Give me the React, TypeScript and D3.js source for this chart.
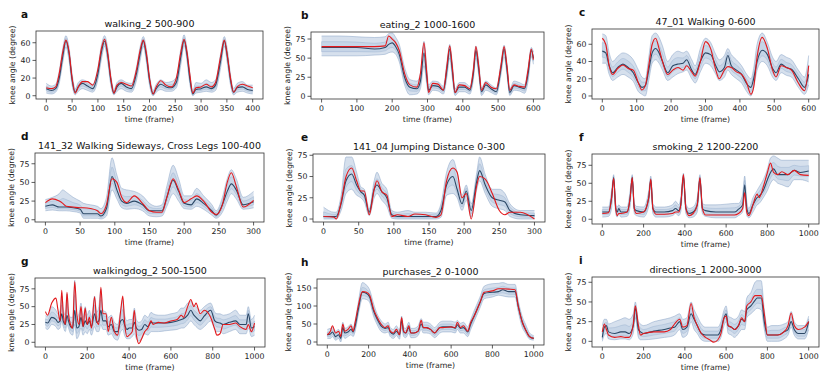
import React from "react";
import * as d3 from "d3";

// rows: [frame, band low, mean, band high, reference (red)]
const walking2 = [
  [0, 3, 8, 14, 9], [10, 2, 6, 11, 8], [18, 4, 8, 13, 10], [25, 14, 20, 28, 25], [32, 38, 45, 54, 50],
  [38, 55, 62, 68, 63], [44, 40, 48, 55, 50], [50, 12, 18, 25, 20], [56, 1, 4, 8, 3], [62, 5, 10, 15, 10],
  [70, 8, 14, 18, 16], [80, 6, 11, 16, 16], [90, 4, 8, 13, 12], [100, 18, 25, 32, 30], [107, 42, 50, 58, 54],
  [113, 56, 62, 68, 64], [119, 38, 46, 54, 48], [125, 12, 18, 24, 20], [131, 1, 3, 7, 3], [137, 5, 10, 15, 12],
  [145, 8, 14, 18, 15], [155, 5, 10, 15, 13], [165, 4, 8, 14, 11], [175, 18, 26, 33, 30], [182, 40, 48, 56, 52],
  [188, 56, 62, 67, 63], [194, 38, 45, 53, 48], [200, 12, 18, 24, 20], [207, 0, 2, 6, 2], [213, 4, 8, 13, 10],
  [222, 7, 13, 18, 17], [232, 5, 10, 15, 12], [242, 5, 9, 16, 10], [252, 9, 15, 21, 20], [261, 36, 45, 54, 50],
  [267, 57, 63, 69, 64], [273, 38, 45, 52, 48], [278, 14, 20, 27, 25], [284, 0, 2, 6, 3], [290, 3, 7, 15, 9],
  [300, 4, 8, 14, 10], [310, 5, 10, 18, 13], [320, 4, 8, 15, 10], [328, 6, 12, 18, 15], [338, 32, 40, 48, 45],
  [345, 56, 62, 67, 63], [351, 36, 44, 52, 45], [357, 12, 18, 24, 20], [363, 1, 4, 8, 4], [370, 4, 9, 14, 10],
  [380, 5, 10, 16, 13], [390, 3, 7, 12, 11], [400, 2, 6, 12, 9],
];

const eating2 = [
  [0, 53, 64, 79, 65], [50, 53, 64, 79, 65], [100, 53, 64, 78, 65], [150, 54, 62, 77, 65], [180, 55, 64, 78, 66],
  [190, 57, 68, 82, 79], [200, 58, 70, 83, 75], [210, 55, 65, 77, 70], [220, 45, 55, 68, 60], [235, 15, 25, 38, 30],
  [250, 2, 12, 22, 15], [270, 3, 10, 20, 12], [280, 10, 20, 30, 30], [290, 40, 57, 72, 70], [298, 15, 25, 38, 30],
  [303, 2, 8, 15, 5], [315, 8, 14, 20, 17], [330, 7, 13, 19, 16], [345, 3, 8, 13, 8], [355, 25, 35, 45, 40],
  [363, 50, 62, 68, 66], [370, 25, 35, 45, 40], [378, 1, 5, 10, 5], [390, 6, 12, 18, 15], [405, 6, 12, 18, 14],
  [420, 3, 8, 13, 10], [430, 22, 30, 38, 35], [437, 50, 60, 66, 65], [445, 28, 36, 46, 40], [453, 1, 6, 11, 8],
  [465, 8, 15, 20, 18], [480, 5, 10, 15, 12], [495, 2, 6, 11, 10], [508, 28, 36, 44, 40], [517, 52, 62, 67, 65],
  [525, 28, 36, 44, 40], [533, 1, 5, 10, 8], [545, 8, 14, 20, 15], [560, 7, 12, 18, 13], [575, 4, 10, 15, 12],
  [585, 20, 30, 38, 35], [594, 52, 60, 64, 62], [600, 42, 50, 58, 48],
];

const walking4701 = [
  [0, 38, 52, 72, 67], [10, 38, 50, 70, 60], [20, 25, 35, 50, 35], [30, 18, 27, 40, 25], [45, 22, 33, 46, 32],
  [60, 25, 37, 50, 36], [75, 22, 33, 48, 32], [90, 17, 27, 42, 30], [105, 5, 15, 30, 15], [115, 2, 10, 22, 7],
  [125, 0, 12, 20, 12], [135, 18, 30, 45, 35], [145, 38, 50, 70, 60], [155, 42, 55, 73, 67], [165, 38, 50, 68, 55],
  [175, 30, 40, 58, 40], [190, 18, 27, 40, 25], [205, 22, 35, 48, 30], [220, 26, 37, 52, 33], [235, 28, 38, 50, 30],
  [245, 30, 42, 52, 35], [260, 20, 30, 42, 28], [270, 15, 25, 35, 23], [285, 28, 40, 55, 40], [300, 38, 50, 67, 63],
  [315, 35, 48, 62, 55], [330, 25, 35, 48, 30], [340, 18, 28, 42, 20], [355, 22, 33, 47, 30], [365, 30, 47, 55, 34],
  [375, 25, 35, 48, 33], [390, 20, 30, 42, 28], [405, 15, 25, 35, 25], [420, 5, 14, 25, 15], [432, 0, 10, 20, 2],
  [440, 10, 20, 32, 10], [450, 30, 40, 60, 45], [465, 40, 53, 73, 68], [480, 35, 48, 62, 55], [495, 22, 32, 45, 30],
  [505, 18, 27, 40, 22], [520, 27, 37, 48, 35], [535, 24, 33, 45, 33], [550, 22, 31, 42, 30], [570, 10, 20, 30, 15],
  [588, 2, 10, 22, 6], [600, 13, 25, 47, 35],
];

const sideways = [
  [0, 12, 18, 27, 23], [10, 13, 20, 30, 28], [20, 12, 17, 35, 25], [25, 12, 17, 40, 22], [30, 12, 17, 37, 18],
  [40, 11, 16, 30, 17], [50, 9, 14, 25, 16], [55, 2, 8, 22, 16], [65, 2, 8, 20, 15], [75, 2, 8, 18, 12],
  [80, 1, 5, 15, 8], [88, 5, 15, 30, 20], [96, 40, 58, 83, 55], [103, 28, 40, 60, 50], [110, 16, 25, 42, 30],
  [117, 14, 22, 40, 23], [128, 15, 25, 38, 32], [140, 12, 20, 32, 22], [150, 5, 12, 22, 12], [160, 4, 12, 18, 10],
  [168, 5, 12, 20, 10], [175, 18, 30, 45, 30], [184, 35, 53, 73, 55], [192, 25, 38, 55, 40], [200, 15, 22, 32, 23],
  [210, 14, 20, 32, 28], [218, 18, 28, 42, 32], [228, 14, 22, 32, 25], [240, 6, 12, 20, 10], [246, 2, 6, 12, 7],
  [255, 10, 20, 30, 20], [262, 25, 38, 55, 50], [268, 35, 48, 67, 63], [275, 28, 40, 55, 45], [285, 14, 20, 30, 17],
  [300, 16, 24, 38, 26],
];

const jumping = [
  [0, 0, 3, 14, 3], [15, 0, 3, 8, 2], [18, 0, 3, 8, 0], [25, 10, 18, 28, 20], [32, 30, 45, 73, 50],
  [40, 35, 53, 73, 60], [47, 28, 40, 55, 45], [53, 25, 32, 38, 33], [58, 20, 28, 35, 33], [65, 4, 8, 12, 5],
  [72, 25, 35, 45, 35], [76, 30, 40, 55, 45], [83, 22, 32, 42, 32], [90, 15, 25, 35, 28], [97, 1, 5, 10, 3],
  [105, 0, 3, 8, 5], [120, 0, 3, 10, 3], [130, 0, 3, 8, 6], [145, 0, 3, 8, 5], [160, 0, 3, 7, 2],
  [167, 2, 10, 18, 5], [175, 28, 40, 55, 45], [184, 30, 50, 70, 60], [190, 25, 35, 55, 55], [197, 10, 18, 28, 25],
  [203, 22, 33, 40, 30], [210, 2, 10, 18, 0], [218, 35, 45, 55, 40], [222, 45, 57, 73, 50], [230, 30, 40, 52, 47],
  [240, 15, 25, 35, 30], [250, 12, 22, 35, 10], [258, 10, 20, 30, 5], [265, 3, 10, 18, 8], [280, 0, 5, 10, 8],
  [300, 0, 4, 10, 0],
];

const smoking2 = [
  [0, 3, 10, 17, 8], [30, 4, 10, 17, 9], [45, 15, 30, 40, 30], [55, 50, 58, 62, 57], [65, 8, 15, 22, 15],
  [72, 3, 10, 17, 5], [80, 8, 15, 20, 8], [90, 3, 10, 17, 8], [120, 4, 10, 17, 10], [135, 18, 30, 40, 30],
  [145, 52, 58, 62, 58], [155, 8, 15, 22, 15], [165, 5, 12, 18, 8], [200, 3, 10, 17, 10], [225, 18, 30, 40, 30],
  [235, 50, 55, 60, 56], [245, 8, 15, 22, 15], [260, 3, 10, 17, 7], [300, 3, 10, 17, 7], [340, 5, 12, 20, 8],
  [355, 8, 15, 25, 10], [370, 5, 12, 20, 10], [380, 10, 20, 30, 20], [393, 52, 60, 64, 62], [405, 8, 15, 22, 15],
  [420, 2, 8, 15, 5], [440, 3, 10, 17, 8], [460, 10, 20, 30, 20], [473, 50, 57, 62, 58], [485, 8, 15, 22, 15],
  [500, 4, 12, 20, 6], [550, 2, 10, 20, 6], [600, 2, 10, 21, 6], [640, 2, 10, 22, 6], [660, 5, 14, 22, 8],
  [680, 10, 20, 35, 15], [690, 35, 48, 60, 37], [700, 5, 15, 25, 10], [710, 2, 8, 15, 5], [730, 10, 20, 30, 20],
  [750, 20, 30, 40, 35], [760, 22, 32, 45, 30], [780, 30, 40, 55, 45], [800, 40, 55, 70, 65], [815, 50, 65, 85, 78],
  [830, 55, 70, 88, 65], [850, 50, 62, 85, 62], [870, 48, 62, 82, 66], [900, 45, 62, 82, 62], [930, 55, 68, 82, 68],
  [960, 55, 65, 82, 62], [1000, 52, 67, 82, 61],
];

const walkingdog2 = [
  [0, 20, 28, 38, 43], [10, 18, 27, 36, 38], [30, 25, 35, 50, 55], [50, 22, 32, 45, 62], [60, 18, 28, 40, 45],
  [70, 20, 30, 45, 30], [78, 30, 40, 65, 73], [85, 22, 30, 48, 40], [95, 15, 25, 38, 25], [103, 25, 38, 68, 70],
  [110, 20, 30, 45, 40], [120, 12, 22, 35, 25], [130, 10, 20, 35, 20], [140, 25, 45, 87, 85], [150, 5, 20, 35, 40],
  [160, 10, 22, 40, 25], [170, 20, 35, 55, 50], [180, 10, 22, 35, 22], [190, 15, 30, 50, 48], [200, 12, 25, 38, 25],
  [210, 18, 30, 45, 35], [220, 10, 22, 35, 20], [235, 22, 40, 65, 64], [245, 15, 28, 42, 30], [255, 15, 30, 50, 25],
  [265, 25, 45, 75, 77], [275, 18, 30, 45, 40], [290, 18, 30, 42, 40], [300, 10, 22, 35, 15], [315, 12, 25, 38, 35],
  [330, 5, 15, 28, 15], [345, 3, 15, 25, 10], [360, 15, 30, 45, 45], [370, 18, 32, 60, 65], [378, 10, 25, 40, 30],
  [390, 5, 18, 30, 8], [400, 5, 20, 32, 10], [415, 8, 20, 32, 15], [425, 12, 28, 48, 45], [435, 5, 20, 32, 10],
  [447, 2, 17, 28, -2], [460, 5, 18, 30, 5], [475, 12, 25, 38, 15], [490, 10, 22, 35, 20], [505, 15, 28, 42, 30],
  [515, 15, 27, 40, 25], [540, 15, 27, 38, 28], [570, 16, 27, 38, 27], [600, 17, 28, 40, 30], [630, 18, 30, 42, 32],
  [650, 20, 32, 48, 38], [660, 20, 33, 48, 35], [680, 25, 38, 55, 50], [695, 30, 45, 58, 60], [710, 25, 38, 52, 50],
  [720, 22, 35, 50, 55], [740, 18, 30, 45, 40], [760, 22, 37, 50, 45], [790, 30, 45, 55, 35], [810, 18, 30, 42, 18],
  [820, 15, 28, 40, 10], [835, 15, 27, 40, 12], [850, 12, 25, 38, 25], [880, 15, 28, 40, 25], [910, 18, 30, 45, 27],
  [930, 12, 25, 38, 22], [960, 12, 25, 38, 18], [970, 20, 40, 50, 25], [985, 8, 20, 32, 15], [1000, 10, 22, 38, 27],
];

const purchases2 = [
  [0, 10, 20, 35, 20], [15, 10, 22, 38, 30], [25, 15, 28, 40, 45], [40, 5, 15, 30, 25], [55, 10, 20, 35, 30],
  [65, 0, 10, 25, 15], [75, 20, 40, 55, 50], [85, 10, 25, 38, 30], [100, 15, 28, 42, 35], [115, 20, 35, 50, 45],
  [125, 15, 28, 40, 30], [135, 30, 45, 60, 55], [150, 75, 90, 110, 100], [170, 120, 138, 165, 140], [190, 118, 135, 158, 138],
  [205, 110, 125, 145, 130], [225, 70, 85, 105, 90], [240, 50, 65, 80, 70], [260, 30, 45, 60, 50], [280, 25, 38, 50, 40],
  [295, 28, 40, 55, 45], [305, 15, 28, 40, 30], [320, 10, 22, 35, 25], [335, 18, 30, 45, 35], [350, 8, 20, 32, 20],
  [360, 40, 60, 72, 68], [370, 15, 28, 40, 30], [380, 12, 25, 38, 25], [395, 25, 40, 55, 45], [405, 12, 25, 38, 25],
  [420, 12, 25, 38, 25], [440, 18, 30, 45, 30], [455, 35, 50, 65, 60], [465, 25, 40, 55, 40], [480, 25, 40, 55, 40],
  [500, 22, 35, 50, 35], [520, 12, 25, 40, 25], [545, 25, 40, 55, 40], [560, 28, 42, 58, 40], [600, 28, 42, 58, 42],
  [620, 25, 38, 55, 40], [630, 35, 48, 60, 55], [645, 25, 38, 52, 40], [660, 25, 40, 55, 45], [680, 15, 28, 42, 30],
  [695, 35, 50, 62, 55], [710, 55, 70, 85, 70], [740, 95, 110, 125, 110], [760, 120, 135, 155, 138], [800, 125, 138, 162, 142],
  [830, 130, 140, 163, 148], [850, 128, 145, 165, 148], [880, 125, 140, 160, 147], [910, 125, 140, 160, 145], [925, 85, 100, 115, 100],
  [945, 40, 55, 70, 55], [960, 25, 35, 50, 35], [980, 8, 15, 25, 15], [1000, 5, 10, 18, 10],
];

const directions1 = [
  [0, 0, 5, 20, 12], [10, 8, 18, 28, 22], [20, 10, 20, 28, 15], [30, 3, 12, 22, 8], [60, 2, 10, 25, 5],
  [90, 3, 12, 28, 6], [110, 3, 12, 30, 5], [130, 2, 10, 28, 5], [150, 10, 20, 35, 22], [160, 30, 42, 50, 45],
  [175, 5, 15, 25, 20], [185, 2, 12, 22, 8], [200, 2, 10, 20, 10], [250, 3, 13, 25, 12], [300, 5, 15, 28, 12],
  [330, 6, 17, 30, 15], [350, 8, 18, 32, 22], [375, 15, 25, 35, 28], [390, 5, 15, 28, 18], [410, 8, 18, 30, 20],
  [430, 25, 35, 50, 48], [445, 15, 28, 40, 30], [460, 10, 20, 32, 20], [480, 2, 10, 22, 10], [500, 0, 8, 18, 5],
  [520, 0, 8, 18, 2], [540, 0, 8, 18, -1], [560, 0, 8, 18, 2], [575, 5, 15, 25, 10], [590, 20, 30, 40, 30],
  [600, 25, 35, 45, 32], [610, 10, 20, 32, 20], [625, 8, 18, 30, 18], [640, 5, 15, 28, 15], [660, 10, 20, 32, 20],
  [675, 15, 28, 40, 30], [690, 15, 25, 38, 25], [700, 30, 40, 55, 45], [720, 35, 45, 62, 50], [740, 40, 52, 75, 58],
  [750, 42, 55, 77, 58], [770, 40, 55, 77, 58], [785, 15, 25, 40, 35], [800, 0, 8, 18, 8], [820, 0, 8, 20, 8],
  [850, 0, 8, 20, 8], [880, 3, 12, 22, 12], [900, 8, 15, 25, 20], [915, 18, 25, 38, 36], [930, 8, 15, 25, 20],
  [950, 3, 10, 20, 15], [980, 3, 10, 20, 18], [1000, 15, 25, 32, 25],
];

const letters = ["a", "b", "c", "d", "e", "f", "g", "h", "i"];
const titles = [
  "walking_2 500-900", "eating_2 1000-1600", "47_01 Walking 0-600",
  "141_32 Walking Sideways, Cross Legs 100-400", "141_04 Jumping Distance 0-300", "smoking_2 1200-2200",
  "walkingdog_2 500-1500", "purchases_2 0-1000", "directions_1 2000-3000",
];
const series = [walking2, eating2, walking4701, sideways, jumping, smoking2, walkingdog2, purchases2, directions1];
const frameMax = [400, 600, 600, 300, 300, 1000, 1000, 1000, 1000];
const xTickSteps = [50, 100, 100, 50, 50, 200, 200, 200, 200];
const yTickLists = [
  [0, 20, 40, 60], [0, 25, 50, 75], [0, 20, 40, 60],
  [0, 25, 50, 75], [0, 25, 50, 75], [0, 25, 50, 75],
  [0, 25, 50, 75], [0, 50, 100, 150], [0, 25, 50, 75],
];
const yDomains = [
  [-3.7, 73.3], [-3.5, 84.2], [-3.5, 77.7],
  [-3, 89.4], [-3.5, 76.5], [-6.6, 90.7],
  [-6.6, 90.2], [-8.3, 175], [-7.2, 81.7],
];

// axes boxes [left, right, top, bottom] in page pixels
const boxes = [
  [36, 263, 31, 99], [311, 544, 32, 99], [592, 819, 29, 99],
  [35, 264, 153, 222], [313, 545, 154, 222], [592, 819, 154, 224],
  [35, 265, 278, 347], [317, 544, 279, 345], [592, 819, 277, 347],
];
const letterX = [21, 301, 579];

const FONT = "DejaVu Sans, sans-serif";
const SMALL = 7.8;
const BAND_FILL = "#b4c7df";
const BAND_EDGE = "#7393bb";
const MEAN_COLOR = "#2c4866";
const RED = "#e3191c";

function Panel({ idx }: { idx: number }) {
  const [l, r, t, b] = boxes[idx];
  const rows = series[idx];
  const tMax = frameMax[idx];
  const x = d3.scaleLinear().domain([-0.05 * tMax, 1.05 * tMax]).range([l, r]);
  const y = d3.scaleLinear().domain(yDomains[idx]).range([b, t]);
  const xTicks = d3.range(0, tMax + 1, xTickSteps[idx]);
  const yTicks = yTickLists[idx];
  const curve = d3.curveMonotoneX;

  const band = d3.area<number[]>().x((d) => x(d[0])).y0((d) => y(d[1])).y1((d) => y(d[3])).curve(curve);
  const inner = d3
    .area<number[]>()
    .x((d) => x(d[0]))
    .y0((d) => y((d[1] + d[2]) / 2))
    .y1((d) => y((d[3] + d[2]) / 2))
    .curve(curve);
  const edge = (k: number) => d3.line<number[]>().x((d) => x(d[0])).y((d) => y(d[k])).curve(curve)(rows) || "";
  const clipId = `clip-${idx}`;
  const maxChars = d3.max(yTicks, (v) => String(v).length) || 2;
  const col = idx % 3;

  return (
    <g>
      <defs>
        <clipPath id={clipId}>
          <rect x={l} y={t} width={r - l} height={b - t} />
        </clipPath>
      </defs>
      <g clipPath={`url(#${clipId})`}>
        <path d={band(rows) || ""} fill={BAND_FILL} fillOpacity={0.55} />
        <path d={inner(rows) || ""} fill={BAND_FILL} fillOpacity={0.45} stroke={BAND_EDGE} strokeOpacity={0.5} strokeWidth={0.5} />
        <path d={edge(1)} fill="none" stroke={BAND_EDGE} strokeOpacity={0.7} strokeWidth={0.6} />
        <path d={edge(3)} fill="none" stroke={BAND_EDGE} strokeOpacity={0.7} strokeWidth={0.6} />
        <path d={edge(2)} fill="none" stroke={MEAN_COLOR} strokeWidth={1.1} />
        <path d={edge(4)} fill="none" stroke={RED} strokeWidth={1.1} />
      </g>
      <rect x={l} y={t} width={r - l} height={b - t} fill="none" stroke="#333" strokeWidth={0.8} />
      {xTicks.map((v) => (
        <g key={`x${v}`}>
          <line x1={x(v)} x2={x(v)} y1={b} y2={b + 3.5} stroke="#333" strokeWidth={0.8} />
          <text x={x(v)} y={b + 11.8} textAnchor="middle" fontSize={SMALL} fontFamily={FONT} fill="#222">
            {v}
          </text>
        </g>
      ))}
      {yTicks.map((v) => (
        <g key={`y${v}`}>
          <line x1={l - 3.5} x2={l} y1={y(v)} y2={y(v)} stroke="#333" strokeWidth={0.8} />
          <text x={l - 5.5} y={y(v) + 2.8} textAnchor="end" fontSize={SMALL} fontFamily={FONT} fill="#222">
            {v}
          </text>
        </g>
      ))}
      <text x={(l + r) / 2} y={b + 22.5} textAnchor="middle" fontSize={SMALL} fontFamily={FONT} fill="#222">
        time (frame)
      </text>
      <text
        transform={`translate(${l - maxChars * 4.7 - 12},${(t + b) / 2}) rotate(-90)`}
        textAnchor="middle"
        fontSize={SMALL}
        fontFamily={FONT}
        fill="#222"
      >
        knee angle (degree)
      </text>
      <text x={(l + r) / 2} y={t - 4.5} textAnchor="middle" fontSize={9.5} fontFamily={FONT} fill="#111">
        {titles[idx]}
      </text>
      <text x={letterX[col]} y={t - 13.5} fontSize={10.5} fontWeight="bold" fontFamily={FONT} fill="#111">
        {letters[idx]}
      </text>
    </g>
  );
}

export default function App() {
  return (
    <svg width={830} height={378} style={{ position: "absolute", left: 0, top: 0, background: "#fff" }}>
      {series.map((_, i) => (
        <Panel key={i} idx={i} />
      ))}
    </svg>
  );
}
